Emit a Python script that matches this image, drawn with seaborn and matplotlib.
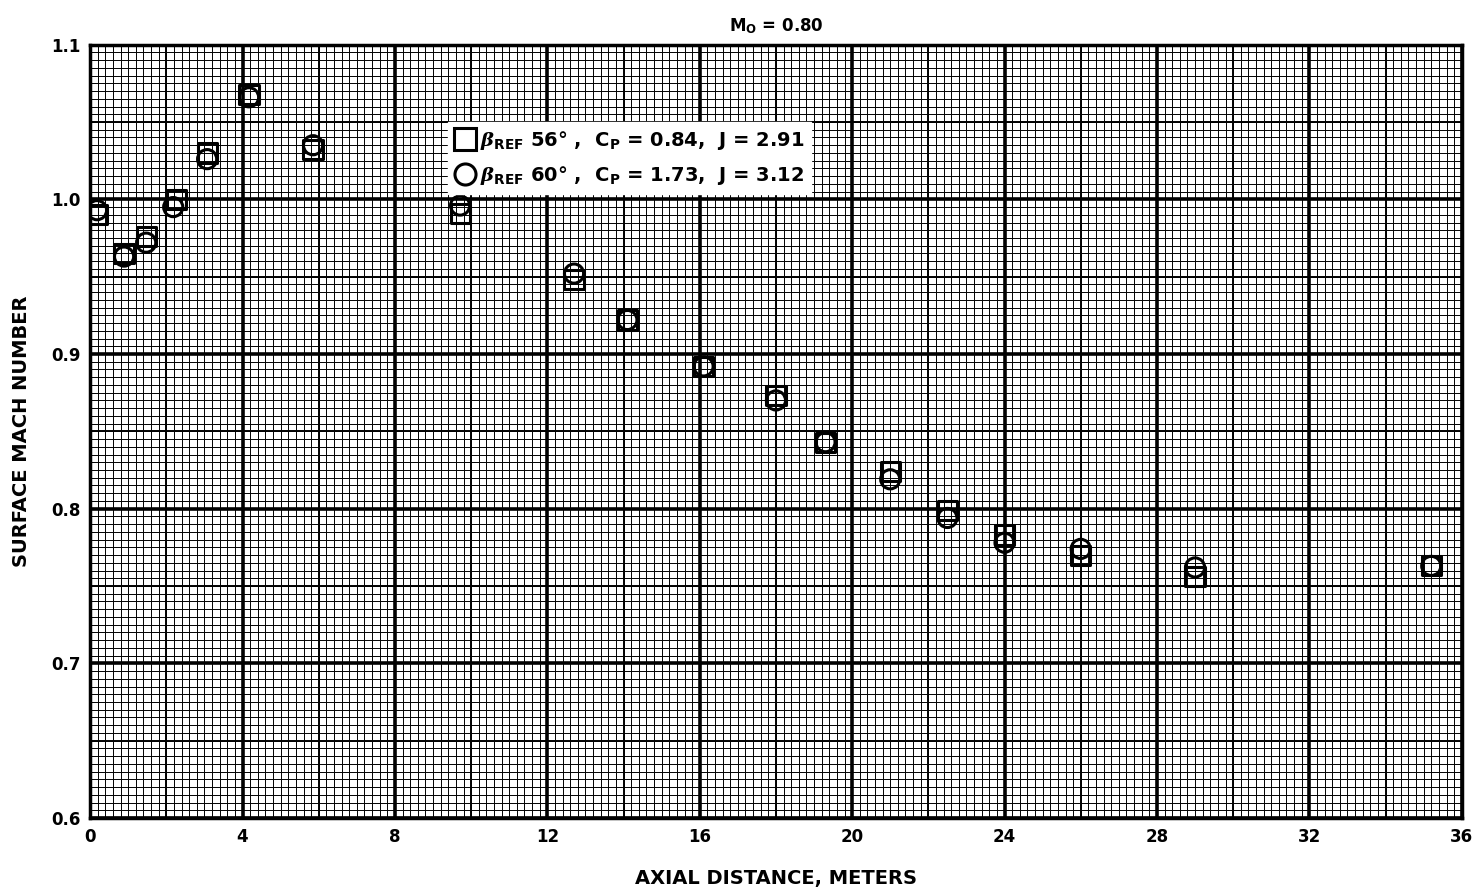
import numpy as np
import pandas as pd
import matplotlib
matplotlib.use("Agg")
import matplotlib.pyplot as plt
import seaborn as sns

# values
x_square = [0.18, 0.89, 1.47, 2.26, 3.07, 4.17, 5.85, 9.71, 12.7, 14.1, 16.1,
            18.0, 19.3, 21.0, 22.5, 24.0, 26.0, 29.0, 35.2]
y_square = [0.990, 0.965, 0.976, 1.000, 1.030, 1.068, 1.032, 0.991, 0.948, 0.922,
            0.892, 0.873, 0.843, 0.824, 0.799, 0.783, 0.770, 0.756, 0.763]
x_circle = [0.18, 0.89, 1.47, 2.18, 3.07, 4.17, 5.85, 9.71, 12.7, 14.1, 16.1,
            18.0, 19.3, 21.0, 22.5, 24.0, 26.0, 29.0, 35.2]
y_circle = [0.993, 0.963, 0.972, 0.995, 1.026, 1.066, 1.035, 0.996, 0.952, 0.922,
            0.892, 0.870, 0.843, 0.819, 0.794, 0.778, 0.774, 0.762, 0.763]

label_square = r'$\mathit{\beta}_{\mathbf{REF}}$ 56° ,  C$_{\mathbf{P}}$ = 0.84,  J = 2.91'
label_circle = r'$\mathit{\beta}_{\mathbf{REF}}$ 60° ,  C$_{\mathbf{P}}$ = 1.73,  J = 3.12'

x_ticks = [0, 4, 8, 12, 16, 20, 24, 28, 32, 36]
y_ticks = [0.6, 0.7, 0.8, 0.9, 1.0, 1.1]

df = pd.concat([
    pd.DataFrame({'x': x_square, 'y': y_square, 'series': label_square}),
    pd.DataFrame({'x': x_circle, 'y': y_circle, 'series': label_circle}),
])

sns.set_style("white")
plt.rcParams['font.family'] = ['DejaVu Sans']
plt.rcParams['font.weight'] = 'bold'
plt.rcParams['text.color'] = 'black'
plt.rcParams['axes.labelcolor'] = 'black'
plt.rcParams['xtick.color'] = 'black'
plt.rcParams['ytick.color'] = 'black'
plt.rcParams['mathtext.fontset'] = 'custom'
plt.rcParams['mathtext.rm'] = 'DejaVu Sans'
plt.rcParams['mathtext.bf'] = 'DejaVu Sans:bold'
plt.rcParams['mathtext.it'] = 'DejaVu Serif:italic'

fig = plt.figure(figsize=(14.78, 8.94), dpi=100)
ax = fig.add_axes([0.061, 0.085, 0.928, 0.865])

# graph paper grid
for xv in np.arange(0, 36.01, 0.2):
    ax.axvline(xv, color='black', lw=0.7, zorder=0)
for yv in np.arange(0.6, 1.1001, 0.005):
    ax.axhline(yv, color='black', lw=0.7, zorder=0)
for xv in np.arange(0, 36.01, 2):
    ax.axvline(xv, color='black', lw=1.4, zorder=0)
for yv in np.arange(0.6, 1.1001, 0.05):
    ax.axhline(yv, color='black', lw=1.4, zorder=0)
for xv in x_ticks:
    ax.axvline(xv, color='black', lw=2.6, zorder=0)
for yv in y_ticks:
    ax.axhline(yv, color='black', lw=2.6, zorder=0)

sns.scatterplot(data=df, x='x', y='y', style='series',
                markers={label_square: 's', label_circle: 'o'},
                facecolor='none', edgecolor='black', linewidth=2.2, s=190,
                ax=ax, zorder=3)

ax.set_xlim(0, 36)
ax.set_ylim(0.6, 1.1)
ax.set_xticks(x_ticks)
ax.set_yticks(y_ticks)
ax.set_yticklabels([f'{v:.1f}' for v in y_ticks])
ax.tick_params(length=0, labelsize=12, pad=7, labelcolor='black')
for lab in ax.get_xticklabels() + ax.get_yticklabels():
    lab.set_fontweight('bold')
for sp in ax.spines.values():
    sp.set_linewidth(2.5)
    sp.set_color('black')

ax.set_xlabel('AXIAL DISTANCE, METERS', fontsize=14, fontweight='bold',
              labelpad=17, color='black')
ax.set_ylabel('SURFACE MACH NUMBER', fontsize=14, fontweight='bold',
              labelpad=14, color='black')
ax.set_title(r'M$_{\mathbf{O}}$ = 0.80', fontsize=12, fontweight='bold',
             pad=10, color='black')

leg = ax.legend(loc='upper left', bbox_to_anchor=(0.254, 0.912), frameon=True,
                fontsize=14, handletextpad=0.3, borderpad=0.35, labelspacing=0.6,
                handlelength=1.0, fancybox=False, markerscale=1.1)
leg.get_frame().set_facecolor('white')
leg.get_frame().set_edgecolor('white')
leg.get_frame().set_alpha(1)
leg.set_zorder(5)
for t in leg.get_texts():
    t.set_fontweight('bold')
    t.set_color('black')

fig.savefig('out.png', dpi=100)
